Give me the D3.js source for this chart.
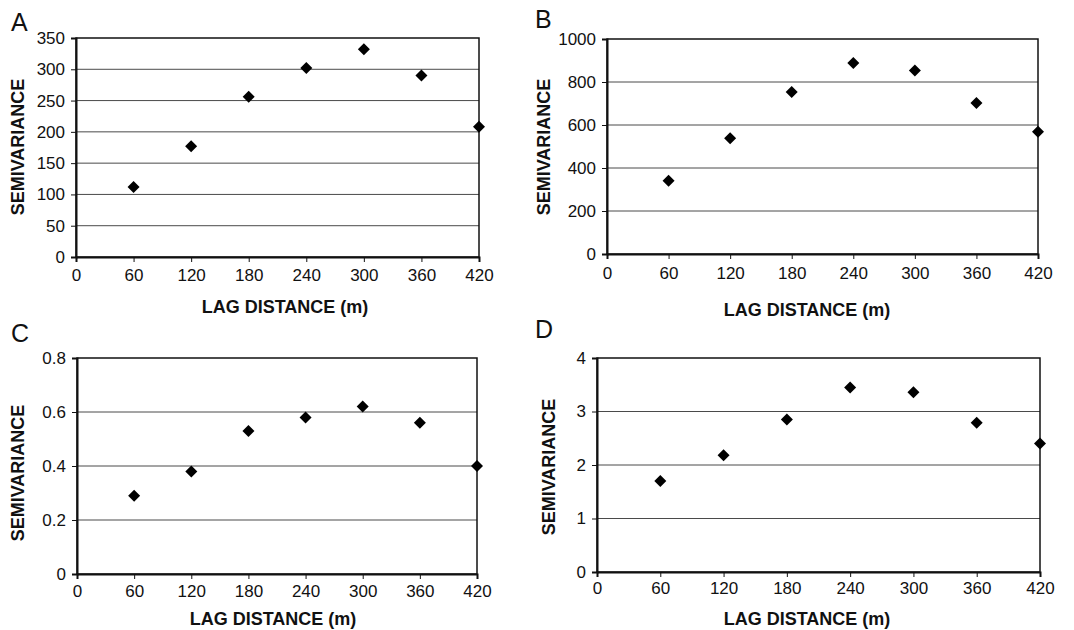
<!DOCTYPE html>
<html lang="en">
<head>
  <meta charset="UTF-8">
  <title>Semivariance vs lag distance</title>
  <script src="https://d3js.org/d3.v7.min.js"></script>
  <style>
    body {
      margin: 0;
      background-color: white;
      font-family: "Liberation Sans", Arial, sans-serif;
    }
  </style>
</head>
<body>
  <svg id="chart" width="1074" height="630"></svg>

  <script>
    // data
    var lags = [60, 120, 180, 240, 300, 360, 420];
    var xTicks = [0, 60, 120, 180, 240, 300, 360, 420];

    var semivarA = [112, 177, 256, 302, 332, 290, 208];
    var semivarB = [341, 538, 753, 888, 853, 702, 569];
    var semivarC = [0.29, 0.38, 0.53, 0.58, 0.62, 0.56, 0.40];
    var semivarD = [1.70, 2.18, 2.85, 3.45, 3.36, 2.79, 2.40];

    var yTicksA = [0, 50, 100, 150, 200, 250, 300, 350];
    var yTicksB = [0, 200, 400, 600, 800, 1000];
    var yTicksC = [0, 0.2, 0.4, 0.6, 0.8];
    var yTicksD = [0, 1, 2, 3, 4];

    var panelLetters = ["A", "B", "C", "D"];
    var xTitle = "LAG DISTANCE (m)";
    var yTitle = "SEMIVARIANCE";

    // plot area of each panel, plus where the titles sit
    var layout = [
      { left: 76, right: 479, top: 38, bottom: 257, letterX: 11, letterY: 31, xTitleX: 285, xTitleY: 313, yTitleX: 24, yTitleY: 147, pad: 7 },
      { left: 607, right: 1038, top: 39, bottom: 254, letterX: 535, letterY: 28, xTitleX: 807, xTitleY: 316, yTitleX: 550, yTitleY: 147, pad: 8 },
      { left: 77, right: 477, top: 358, bottom: 574, letterX: 11, letterY: 342, xTitleX: 273, xTitleY: 625, yTitleX: 24, yTitleY: 473, pad: 6 },
      { left: 597, right: 1040, top: 358, bottom: 572, letterX: 535, letterY: 338, xTitleX: 807, xTitleY: 625, yTitleX: 555, yTitleY: 467, pad: 5 }
    ];

    var series = [semivarA, semivarB, semivarC, semivarD];
    var yTickSets = [yTicksA, yTicksB, yTicksC, yTicksD];

    var svg = d3.select("#chart");

    function styleTicks(a) {
      a.selectAll(".tick text")
        .style("font-family", "'Liberation Sans', Arial, sans-serif")
        .style("font-size", "17px")
        .style("fill", "#111");
      a.selectAll(".tick line").attr("stroke", "#111");
      a.select(".domain").attr("stroke", "#111").attr("stroke-width", 2);
    }

    function drawPanel(i) {
      var box = layout[i];
      var values = series[i];
      var yTicks = yTickSets[i];

      var xScale = d3.scaleLinear()
        .domain([0, 420])
        .range([box.left, box.right]);
      var yScale = d3.scaleLinear()
        .domain([0, d3.max(yTicks)])
        .range([box.bottom, box.top]);

      var g = svg.append("g");

      // horizontal gridlines
      g.selectAll(".grid")
        .data(yTicks.slice(1, -1))
        .enter()
        .append("line")
        .attr("x1", box.left)
        .attr("x2", box.right)
        .attr("y1", d => yScale(d))
        .attr("y2", d => yScale(d))
        .attr("stroke", "#4a4a4a")
        .attr("stroke-width", 1);

      // plot area border
      g.append("rect")
        .attr("x", box.left)
        .attr("y", box.top)
        .attr("width", box.right - box.left)
        .attr("height", box.bottom - box.top)
        .attr("fill", "none")
        .attr("stroke", "#111")
        .attr("stroke-width", 1.5);

      var fmt = i == 2 ? (d => d == 0 ? "0" : d3.format(".1f")(d)) : d3.format("d");

      var yAxis = d3.axisLeft(yScale)
        .tickValues(yTicks)
        .tickFormat(fmt)
        .tickSize(5)
        .tickPadding(6);
      g.append("g")
        .attr("transform", "translate(" + box.left + ",0)")
        .call(yAxis)
        .call(styleTicks);

      var xAxis = d3.axisBottom(xScale)
        .tickValues(xTicks)
        .tickSize(5)
        .tickPadding(box.pad);
      g.append("g")
        .attr("transform", "translate(0," + box.bottom + ")")
        .call(xAxis)
        .call(styleTicks);

      // diamonds
      g.selectAll(".pt")
        .data(values)
        .enter()
        .append("path")
        .attr("d", d3.symbol().type(d3.symbolSquare).size(72))
        .attr("transform", (d, j) => "translate(" + xScale(lags[j]) + "," + yScale(d) + ") rotate(45)")
        .attr("fill", "#000");

      // titles
      g.append("text")
        .attr("x", box.xTitleX)
        .attr("y", box.xTitleY)
        .attr("text-anchor", "middle")
        .style("font-size", "18px")
        .style("font-weight", "bold")
        .style("fill", "#111")
        .text(xTitle);

      g.append("text")
        .attr("transform", "translate(" + box.yTitleX + "," + box.yTitleY + ") rotate(-90)")
        .attr("text-anchor", "middle")
        .style("font-size", "18px")
        .style("font-weight", "bold")
        .style("fill", "#111")
        .text(yTitle);

      g.append("text")
        .attr("x", box.letterX)
        .attr("y", box.letterY)
        .style("font-size", "25px")
        .style("fill", "#111")
        .text(panelLetters[i]);
    }

    for (var i = 0; i < 4; i++) {
      drawPanel(i);
    }
  </script>
</body>
</html>
